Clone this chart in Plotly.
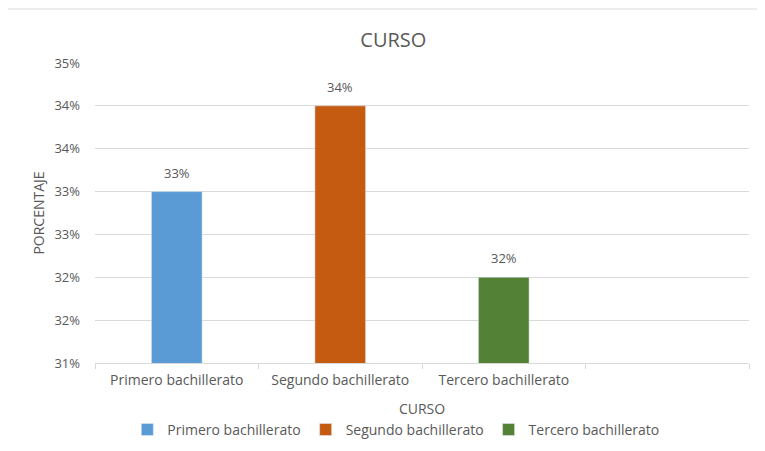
import plotly.graph_objects as go

categories = ['Primero bachillerato', 'Segundo bachillerato', 'Tercero bachillerato']
values = [0.33, 0.34, 0.32]
colors = ['#5B9BD5', '#C55A11', '#538135']
axis_slots = categories + [' ']

font_family = 'Open Sans, Liberation Sans, sans-serif'
grey = '#595959'

fig = go.Figure()
for cat, val, col in zip(categories, values, colors):
    fig.add_trace(go.Bar(x=[cat], y=[val], name=cat, marker_color=col, width=0.31))
    # data label above each bar
    fig.add_annotation(x=cat, y=val, text=f'{val:.0%}', showarrow=False,
                       yshift=19, font=dict(size=13, color=grey))

# page body has an 8px margin, so the figure is drawn 8px smaller and shifted
fig.update_layout(
    width=757, height=443,
    barmode='overlay',
    plot_bgcolor='white', paper_bgcolor='white',
    margin=dict(l=87, r=16, t=55, b=88, autoexpand=False),
    font=dict(family=font_family, color=grey, size=14),
    title=dict(text='CURSO', x=0.509, xanchor='center', y=0.928, yanchor='middle',
               font=dict(size=20, color=grey)),
    showlegend=True,
    legend=dict(orientation='h', x=0.46, xanchor='center', y=-0.223, yanchor='middle',
                font=dict(size=14, color=grey), itemwidth=30, tracegroupgap=0),
    xaxis=dict(
        type='category', categoryorder='array', categoryarray=axis_slots,
        range=[-0.5, 3.5], tickson='boundaries', ticks='outside', ticklen=5,
        tickcolor='#D9D9D9', showline=True, linecolor='#D9D9D9', showgrid=False,
        ticklabelstandoff=4,
        title=dict(text='CURSO', standoff=16, font=dict(size=14, color=grey)),
        tickfont=dict(size=14, color=grey),
    ),
    yaxis=dict(
        range=[0.31, 0.345], dtick=0.005, tick0=0.31, tickformat='.0%',
        gridcolor='#D9D9D9', zeroline=False, ticks='', ticklabelstandoff=14,
        title=dict(text='PORCENTAJE', standoff=6, font=dict(size=14, color=grey)),
        tickfont=dict(size=13, color=grey),
    ),
    shapes=[dict(type='rect', xref='paper', yref='paper', x0=-0.1346, y0=-0.5,
                 x1=1.2, y1=1.18, line=dict(color='#D9D9D9', width=1), layer='below')],
)

fig.write_html('out.html')
